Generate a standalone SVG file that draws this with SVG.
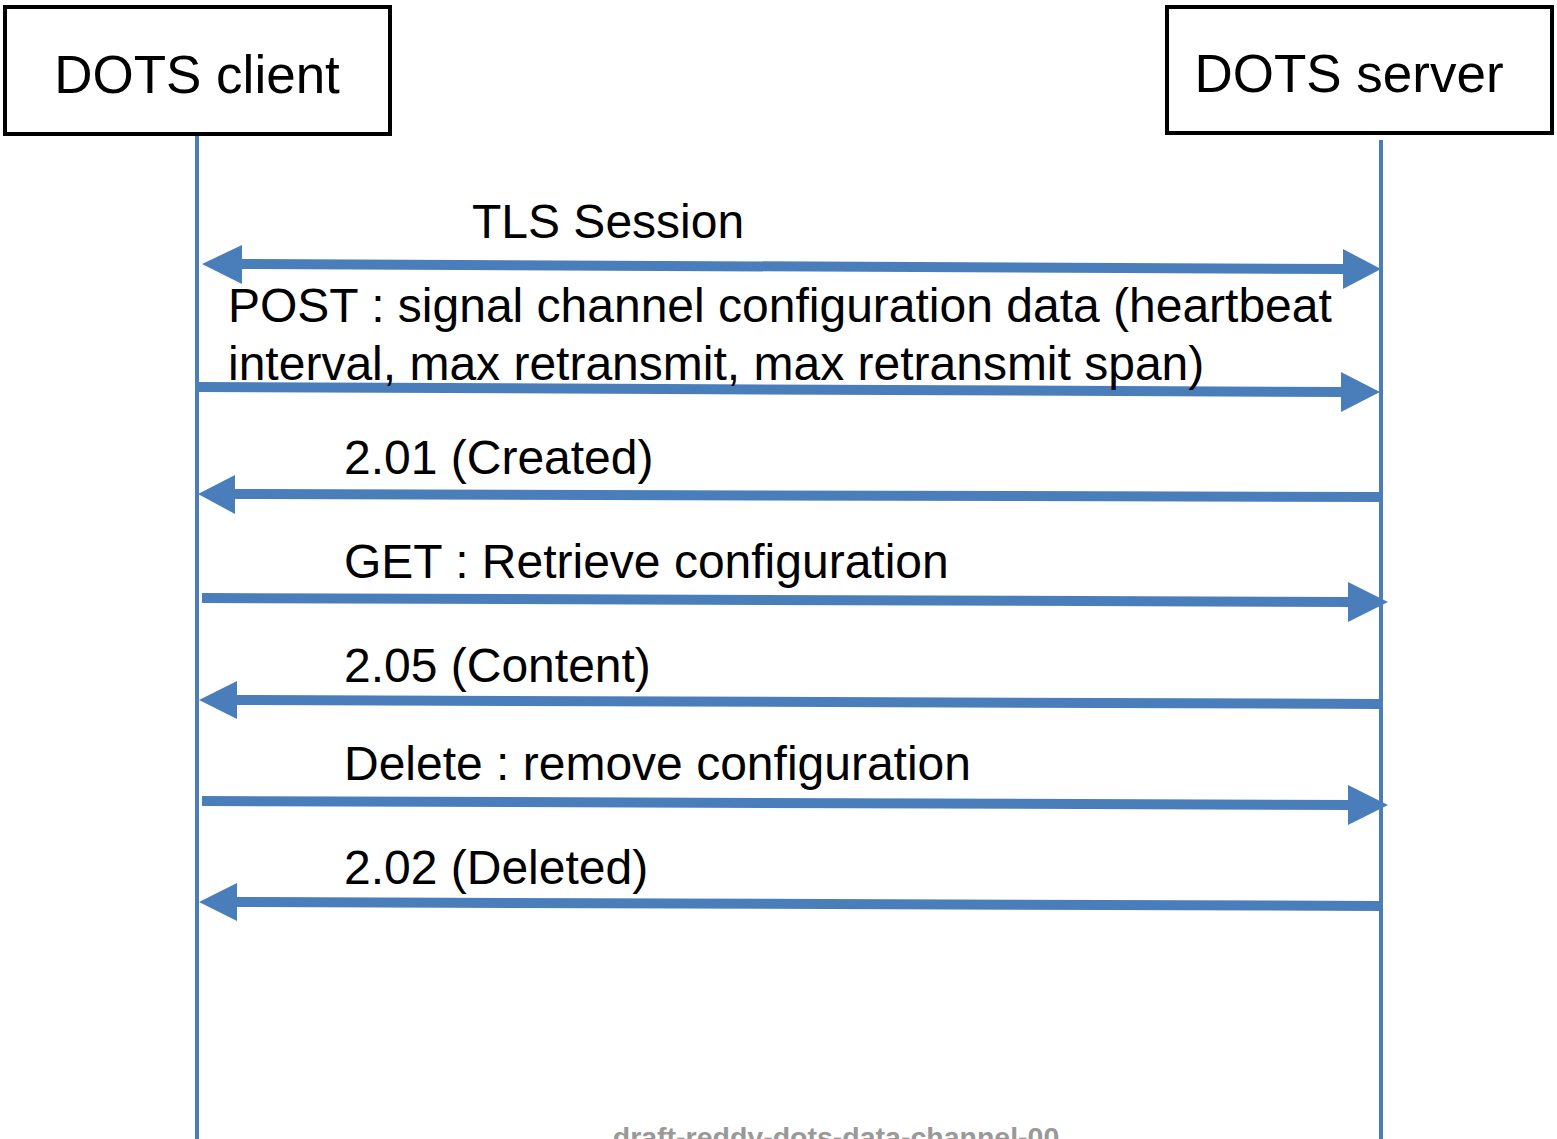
<svg xmlns="http://www.w3.org/2000/svg" width="1557" height="1139" viewBox="0 0 1557 1139">
<style>
.box{fill:#fff;stroke:#000;stroke-width:4}
.life{stroke:#4a7ebb;stroke-width:4;fill:none}
.msg{stroke:#4a7ebb;stroke-width:10;fill:none}
.head{fill:#4a7ebb}
.t{font-family:"Liberation Sans",Arial,sans-serif;fill:#000}
.title{font-size:53px}
.lbl{font-size:48px}
.foot{font-family:"Liberation Sans",Arial,sans-serif;font-weight:bold;font-size:28.5px;fill:#999}
</style>
<g id="lifelines">
<line class="life" x1="197" y1="134" x2="197" y2="1139"/>
<line class="life" x1="1381" y1="140" x2="1381" y2="1139"/>
</g>
<g id="client">
<rect class="box" x="5" y="7" width="385" height="127"/>
<text class="t title" x="197" y="93" text-anchor="middle">DOTS client</text>
</g>
<g id="server">
<rect class="box" x="1167" y="7" width="385" height="126"/>
<text class="t title" x="1349" y="92" text-anchor="middle">DOTS server</text>
</g>
<g id="connectors">
<line class="msg" x1="238" y1="264" x2="1345" y2="269"/>
<polygon class="head" points="202,264 242,245 242,284"/>
<polygon class="head" points="1381,269 1343,249 1343,289"/>
<line class="msg" x1="197" y1="387" x2="1345" y2="392"/>
<polygon class="head" points="1380,392 1341,372 1341,412"/>
<line class="msg" x1="1381" y1="497" x2="230" y2="494"/>
<polygon class="head" points="198,494 235,475 235,514"/>
<line class="msg" x1="202" y1="598" x2="1352" y2="602"/>
<polygon class="head" points="1388,602 1348,582 1348,622"/>
<line class="msg" x1="1381" y1="704" x2="232" y2="700"/>
<polygon class="head" points="199,700 237,681 237,719"/>
<line class="msg" x1="202" y1="801" x2="1352" y2="805"/>
<polygon class="head" points="1388,805 1348,785 1348,825"/>
<line class="msg" x1="1381" y1="906" x2="232" y2="902"/>
<polygon class="head" points="199,902 237,883 237,921"/>
</g>
<g id="labels">
<text class="t lbl" x="472" y="238">TLS Session</text>
<text class="t lbl" x="228" y="322">POST : signal channel configuration data (heartbeat</text>
<text class="t lbl" x="228" y="380">interval, max retransmit, max retransmit span)</text>
<text class="t lbl" x="344" y="474">2.01 (Created)</text>
<text class="t lbl" x="344" y="578">GET : Retrieve configuration</text>
<text class="t lbl" x="344" y="682">2.05 (Content)</text>
<text class="t lbl" x="344" y="780">Delete : remove configuration</text>
<text class="t lbl" x="344" y="884">2.02 (Deleted)</text>
</g>
<text class="foot" x="836" y="1147" text-anchor="middle">draft-reddy-dots-data-channel-00</text>
</svg>
